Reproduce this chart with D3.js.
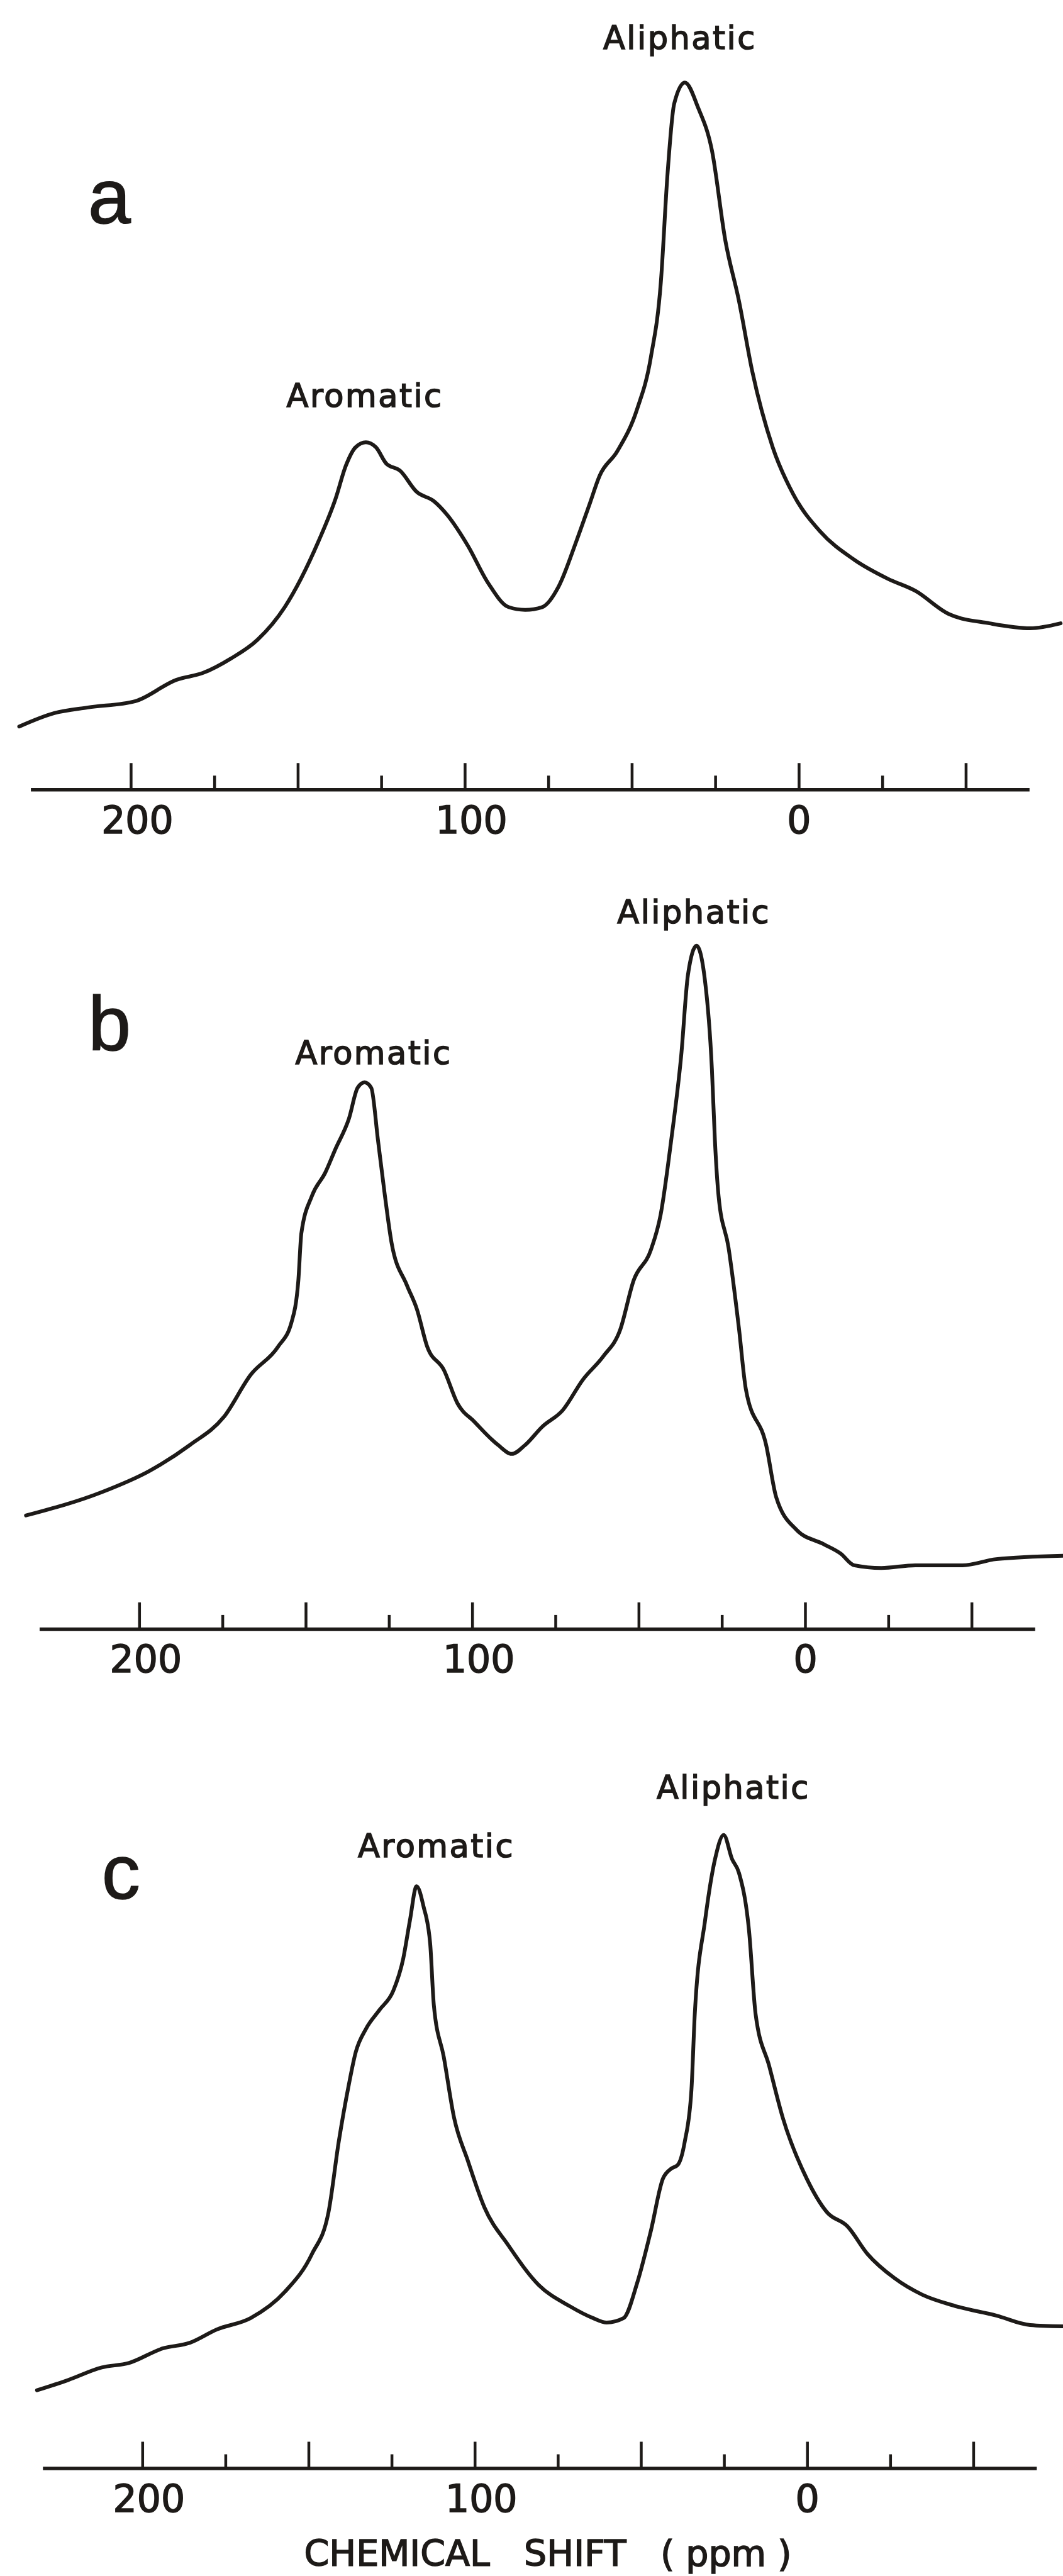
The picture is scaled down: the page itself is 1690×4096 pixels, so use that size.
<!DOCTYPE html>
<html>
<head>
<meta charset="utf-8">
<script src="https://cdn.jsdelivr.net/npm/d3@7"></script>
<style>
  body { margin: 0; background: #fff; }
  svg { display: block; }
</style>
</head>
<body>
<div id="chart"></div>
<script>

//chemical shift (ppm) and intensity (% of tallest peak)
const shiftA = [233.4, 222.9, 212.8, 198.6, 186.4, 178.3, 170.1, 162.0, 153.9, 143.8, 138.7, 135.6, 132.7, 129.6, 126.6, 123.5, 119.4, 114.4, 109.3, 105.2, 99.1, 93.0, 86.9, 81.9, 76.8, 71.8, 66.6, 62.6, 59.6, 54.4, 48.4, 44.3, 41.3, 39.3, 37.3, 34.1, 30.1, 26.0, 22.0, 17.9, 13.9, 7.8, 1.7, -6.4, -16.6, -26.7, -34.9, -45.0, -57.1, -69.3, -78.4]
const intensityA = [8.9, 10.8, 11.6, 12.5, 15.5, 16.5, 18.5, 21.2, 25.8, 35.1, 41.1, 45.8, 48.4, 49.1, 48.4, 46.1, 45.1, 42.1, 40.8, 38.8, 34.5, 29.2, 25.8, 25.4, 25.8, 28.8, 35.1, 40.4, 44.4, 47.8, 53.8, 61.1, 71.7, 87.0, 97.0, 100, 96.4, 90.4, 77.7, 69.1, 59.1, 48.4, 41.8, 36.5, 32.5, 29.8, 28.1, 24.8, 23.5, 22.8, 23.5]

const shiftB = [234.0, 211.3, 197.0, 184.8, 174.6, 166.5, 158.3, 154.3, 152.2, 151.3, 148.1, 144.1, 141.1, 137.0, 134.4, 132.3, 130.3, 128.3, 126.2, 124.2, 119.6, 116.6, 113.5, 108.5, 104.4, 99.3, 92.2, 88.1, 84.1, 78.9, 72.8, 66.7, 60.6, 55.6, 51.5, 46.3, 43.4, 40.2, 37.2, 35.2, 32.6, 30.1, 28.0, 27.1, 26.0, 23.0, 19.9, 17.8, 11.7, 8.7, 2.6, -5.5, -10.7, -14.7, -22.9, -33.1, -47.3, -57.4, -77.4]
const intensityB = [16.6, 20.0, 23.1, 26.9, 31.0, 37.2, 41.3, 44.8, 51.0, 57.9, 63.4, 66.8, 70.2, 74.7, 79.2, 80.0, 79.2, 71.6, 63.4, 56.5, 50.3, 46.8, 41.3, 37.9, 33.0, 30.3, 26.9, 25.6, 26.9, 29.6, 32.0, 36.5, 39.9, 43.7, 51.0, 55.5, 60.6, 71.6, 84.0, 95.7, 100, 95.0, 82.0, 71.6, 63.4, 55.8, 44.1, 35.1, 26.9, 19.3, 14.5, 12.4, 11.0, 9.3, 8.9, 9.3, 9.3, 10.2, 10.7]

const shiftC = [231.7, 222.4, 212.2, 204.1, 193.9, 185.7, 177.6, 167.4, 157.2, 149.0, 144.0, 140.9, 137.9, 135.8, 132.7, 128.6, 124.5, 121.5, 119.5, 117.5, 115.4, 113.4, 112.3, 109.3, 106.2, 102.1, 97.1, 89.9, 80.7, 71.5, 64.4, 60.3, 55.2, 51.1, 47.0, 43.4, 40.9, 38.9, 36.8, 34.8, 33.8, 30.7, 27.7, 25.1, 22.6, 20.5, 17.5, 15.5, 11.4, 7.3, 0.1, -6.0, -12.1, -18.2, -26.3, -34.6, -44.6, -56.9, -67.1, -76.9]
const intensityC = [12.3, 13.9, 15.9, 16.6, 18.9, 19.8, 21.9, 23.7, 27.8, 33.8, 40.4, 51.6, 60.5, 65.7, 69.4, 72.4, 75.4, 80.5, 86.5, 91.9, 88.7, 82.8, 73.1, 64.9, 55.3, 48.6, 41.2, 35.2, 28.9, 25.6, 23.7, 23.0, 23.7, 29.3, 37.5, 45.7, 47.3, 47.9, 51.6, 59.8, 71.7, 86.5, 96.2, 100, 96.2, 94.0, 85.0, 71.7, 63.5, 55.3, 45.7, 40.4, 38.2, 33.8, 30.0, 27.4, 25.6, 24.1, 22.6, 22.4]

//axis ticks (ppm)
const majorTicks = [200, 150, 100, 50, 0, -50]
const minorTicks = [175, 125, 75, 25, -25]
const tickLabels = [200, 100, 0]
const axisExtent = [230, -69]

//panel letters and peak names, anchored in ppm / intensity
const panelNames = ['a', 'b', 'c']
const panelLetterAt = [[212.8, 80.1], [215.3, 84.7], [212.2, 89.9]]
const aromaticLabelAt = [[129.9, 54.1], [129.6, 82.7], [111.6, 96.5]]
const aliphaticLabelAt = [[35.6, 104.7], [33.4, 103.3], [22.2, 105.7]]
const xTitle = 'CHEMICAL   SHIFT   ( ppm )'
const xTitleAt = 78

const traces = [
  {shift: shiftA, intensity: intensityA},
  {shift: shiftB, intensity: intensityB},
  {shift: shiftC, intensity: intensityC}
]

//layout, pixels
const W = 1690, H = 4096
const ink = '#1d1a18'
//x of 200 and 0 ppm, y of baseline and of the tallest peak for each panel
const frames = [
  {x200: 207.9, x0: 1269.9, yBase: 1255.3, yTop: 131.2},
  {x200: 221.3, x0: 1280.0, yBase: 2589.9, yTop: 1503.8},
  {x200: 226.3, x0: 1283.2, yBase: 3924.5, yTop: 2917.7}
]

const svg = d3.select('#chart')
  .append('svg')
    .attr('width', W)
    .attr('height', H)

svg.append('rect')
  .attr('width', W)
  .attr('height', H)
  .attr('fill', '#fff')

let lastX = null

frames.forEach(function (f, i) {

  const x = d3.scaleLinear().domain([200, 0]).range([f.x200, f.x0])
  const y = d3.scaleLinear().domain([0, 100]).range([f.yBase, f.yTop])
  lastX = x

  const g = svg.append('g').attr('class', 'panel-' + panelNames[i])

  //spectrum trace
  const pts = traces[i].shift.map((s, k) => [s, traces[i].intensity[k]])

  const line = d3.line()
    .x(d => x(d[0]))
    .y(d => y(d[1]))
    .curve(d3.curveMonotoneX)

  g.append('path')
    .datum(pts)
    .attr('d', line)
    .attr('fill', 'none')
    .attr('stroke', ink)
    .attr('stroke-width', 6)
    .attr('stroke-linejoin', 'round')
    .attr('stroke-linecap', 'round')

  //axis, ticks pointing up and labels under the line
  const xAxisScale = x.copy().domain(axisExtent).range(axisExtent.map(x))

  const major = g.append('g')
    .attr('transform', 'translate(0,' + y(0) + ')')
    .call(d3.axisBottom(xAxisScale)
      .tickValues(majorTicks)
      .tickSizeInner(-42)
      .tickSizeOuter(0)
      .tickPadding(27)
      .tickFormat(d => tickLabels.includes(d) ? d : ''))

  major.select('.domain')
    .attr('stroke', ink)
    .attr('stroke-width', 5.5)

  major.selectAll('.tick line')
    .attr('stroke', ink)
    .attr('stroke-width', 4.5)

  major.selectAll('.tick text')
    .attr('fill', ink)
    .attr('stroke', ink)
    .attr('stroke-width', 1.6)
    .attr('dx', d => d === 0 ? 0 : 10)
    .style('font-family', '"DejaVu Sans", sans-serif')
    .style('font-size', '60px')

  const minor = g.append('g')
    .attr('transform', 'translate(0,' + y(0) + ')')
    .call(d3.axisBottom(xAxisScale)
      .tickValues(minorTicks)
      .tickSizeInner(-22)
      .tickSizeOuter(0)
      .tickFormat(''))

  minor.select('.domain').remove()
  minor.selectAll('.tick line')
    .attr('stroke', ink)
    .attr('stroke-width', 4.5)

  //panel letter
  g.append('text')
    .attr('x', x(panelLetterAt[i][0]))
    .attr('y', y(panelLetterAt[i][1]))
    .attr('fill', ink)
    .attr('stroke', ink)
    .attr('stroke-width', 1.5)
    .style('font-family', '"Liberation Sans", Arial, sans-serif')
    .style('font-size', '122px')
    .text(panelNames[i])

  //peak names
  const peaks = [['Aromatic', aromaticLabelAt[i]], ['Aliphatic', aliphaticLabelAt[i]]]

  peaks.forEach(function (p) {
    g.append('text')
      .attr('x', x(p[1][0]))
      .attr('y', y(p[1][1]))
      .attr('text-anchor', 'middle')
      .attr('fill', ink)
      .attr('stroke', ink)
      .attr('stroke-width', 1.6)
      .style('font-family', '"DejaVu Sans", sans-serif')
      .style('font-size', '51px')
      .style('letter-spacing', '2.5px')
      .text(p[0])
  })

})

//shared x title under the last panel
svg.append('text')
  .attr('x', lastX(xTitleAt))
  .attr('y', H - 16)
  .attr('text-anchor', 'middle')
  .attr('fill', ink)
  .attr('stroke', ink)
  .attr('stroke-width', 1.6)
  .style('font-family', '"DejaVu Sans", sans-serif')
  .style('font-size', '57px')
  .style('white-space', 'pre')
  .text(xTitle)

</script>
</body>
</html>
